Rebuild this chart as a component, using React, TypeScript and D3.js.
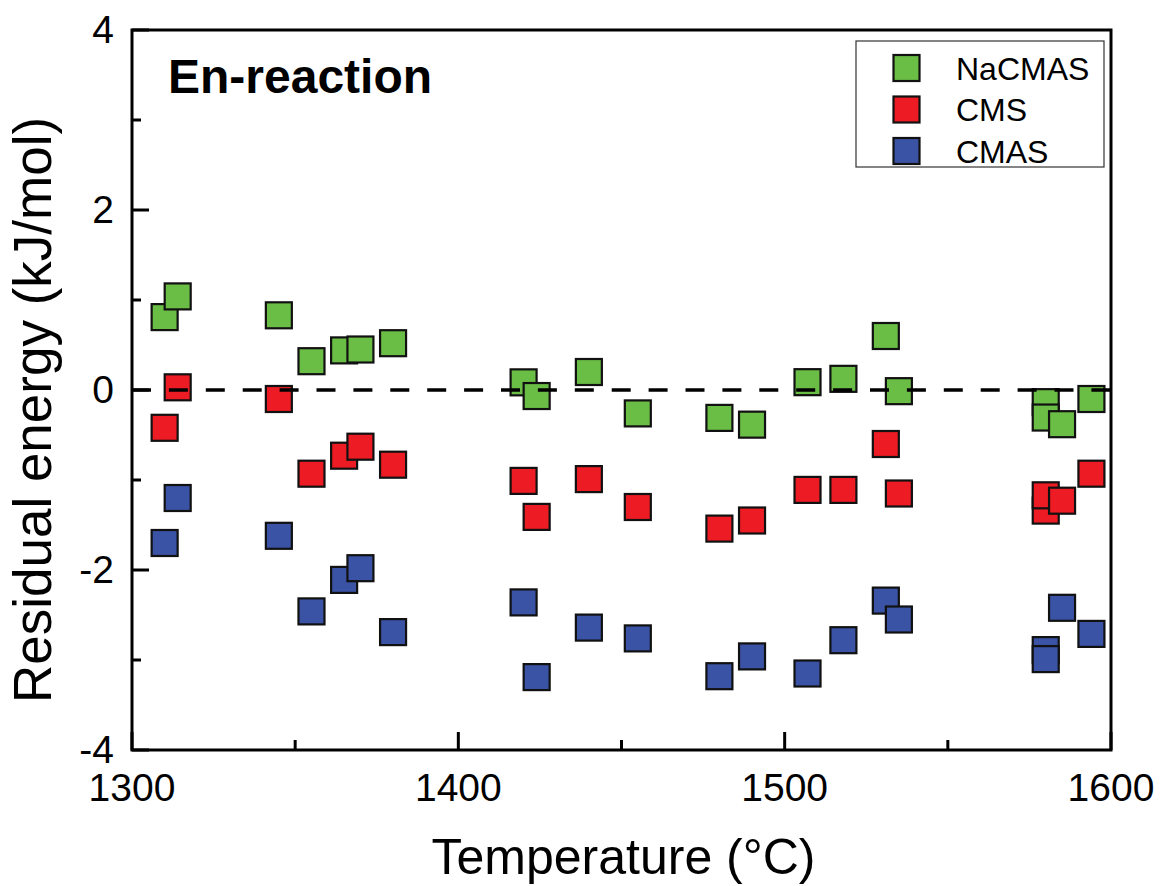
import React from "react";
import * as d3 from "d3";

const temps = [1310, 1314, 1345, 1355, 1365, 1370, 1380, 1420, 1424, 1440, 1455, 1480, 1490, 1507, 1518, 1531, 1535, 1580, 1580, 1585, 1594];
const naCMAS = [0.81, 1.04, 0.83, 0.32, 0.44, 0.45, 0.52, 0.085, -0.067, 0.2, -0.26, -0.31, -0.385, 0.087, 0.124, 0.6, -0.013, -0.135, -0.306, -0.38, -0.1];
const cms = [-0.42, 0.03, -0.1, -0.93, -0.73, -0.63, -0.83, -1.01, -1.41, -0.99, -1.3, -1.54, -1.45, -1.11, -1.11, -0.6, -1.15, -1.34, -1.17, -1.23, -0.93];
const cmas = [-1.7, -1.2, -1.62, -2.46, -2.11, -1.98, -2.69, -2.36, -3.19, -2.64, -2.76, -3.18, -2.96, -3.15, -2.78, -2.34, -2.55, -2.89, -2.99, -2.42, -2.71];

const seriesNames = ["NaCMAS", "CMS", "CMAS"];
const seriesColors = ["#6BBE45", "#ED1C24", "#3A53A4"];
const xMajorTicks = [1300, 1400, 1500, 1600];
const xMinorTicks = [1350, 1450, 1550];
const yMajorTicks = [-4, -2, 0, 2, 4];
const yMinorTicks = [-3, -1, 1, 3];

const W = 1165, H = 886;
const L = 132, R = 1111, T = 30, B = 750;
const FONT = "'Liberation Sans', Arial, Helvetica, sans-serif";

export default function App() {
  const x = d3.scaleLinear().domain([1300, 1600]).range([L, R]);
  const y = d3.scaleLinear().domain([-4, 4]).range([B, T]);
  const series = [naCMAS, cms, cmas];
  const ms = 26;

  return (
    <div style={{ position: "absolute", left: 0, top: 0 }}>
      <svg width={W} height={H} style={{ display: "block", background: "#fff" }} fontFamily={FONT}>
        <rect x={0} y={0} width={W} height={H} fill="#fff" />
        {series.map((vals, si) => (
          <g key={si}>
            {vals.map((v, i) => (
              <rect
                key={i}
                x={x(temps[i]) - ms / 2}
                y={y(v) - ms / 2}
                width={ms}
                height={ms}
                fill={seriesColors[si]}
                stroke="#111"
                strokeWidth={2.2}
              />
            ))}
          </g>
        ))}
        <line x1={L} x2={R} y1={y(0)} y2={y(0)} stroke="#000" strokeWidth={3.5} strokeDasharray="19 17.9" />
        <rect x={L} y={T} width={R - L} height={B - T} fill="none" stroke="#000" strokeWidth={3} />
        {yMajorTicks.map((t) => (
          <g key={"ym" + t}>
            <line x1={L} x2={L + 17} y1={y(t)} y2={y(t)} stroke="#000" strokeWidth={3} />
            <text x={114} y={y(t) + 13} textAnchor="end" fontSize={39} fill="#000">
              {t < 0 ? "-" + Math.abs(t) : String(t)}
            </text>
          </g>
        ))}
        {yMinorTicks.map((t) => (
          <line key={"yn" + t} x1={L} x2={L + 9} y1={y(t)} y2={y(t)} stroke="#000" strokeWidth={3} />
        ))}
        {xMajorTicks.map((t) => (
          <g key={"xm" + t}>
            <line x1={x(t)} x2={x(t)} y1={B} y2={B - 18} stroke="#000" strokeWidth={3} />
            <text x={x(t)} y={801} textAnchor="middle" fontSize={39} fill="#000">
              {t}
            </text>
          </g>
        ))}
        {xMinorTicks.map((t) => (
          <line key={"xn" + t} x1={x(t)} x2={x(t)} y1={B} y2={B - 10} stroke="#000" strokeWidth={3} />
        ))}
        <text x={(L + R) / 2 + 2} y={874} textAnchor="middle" fontSize={50} fill="#000">
          Temperature (°C)
        </text>
        <text
          transform={`translate(51, 410) rotate(-90)`}
          textAnchor="middle"
          fontSize={53}
          fill="#000"
        >
          Residual energy (kJ/mol)
        </text>
        <text x={168} y={93} fontSize={48} fontWeight="bold" fill="#000">
          En-reaction
        </text>
        <rect x={856} y={41} width={248} height={126} fill="#fff" stroke="#333" strokeWidth={1.2} />
        {seriesNames.map((name, i) => {
          const cy = 68 + i * 41.5;
          return (
            <g key={name}>
              <rect x={906.5 - 13} y={cy - 13} width={26} height={26} fill={seriesColors[i]} stroke="#111" strokeWidth={2.2} />
              <text x={956} y={cy + 11.5} fontSize={32} fill="#000">
                {name}
              </text>
            </g>
          );
        })}
      </svg>
    </div>
  );
}
